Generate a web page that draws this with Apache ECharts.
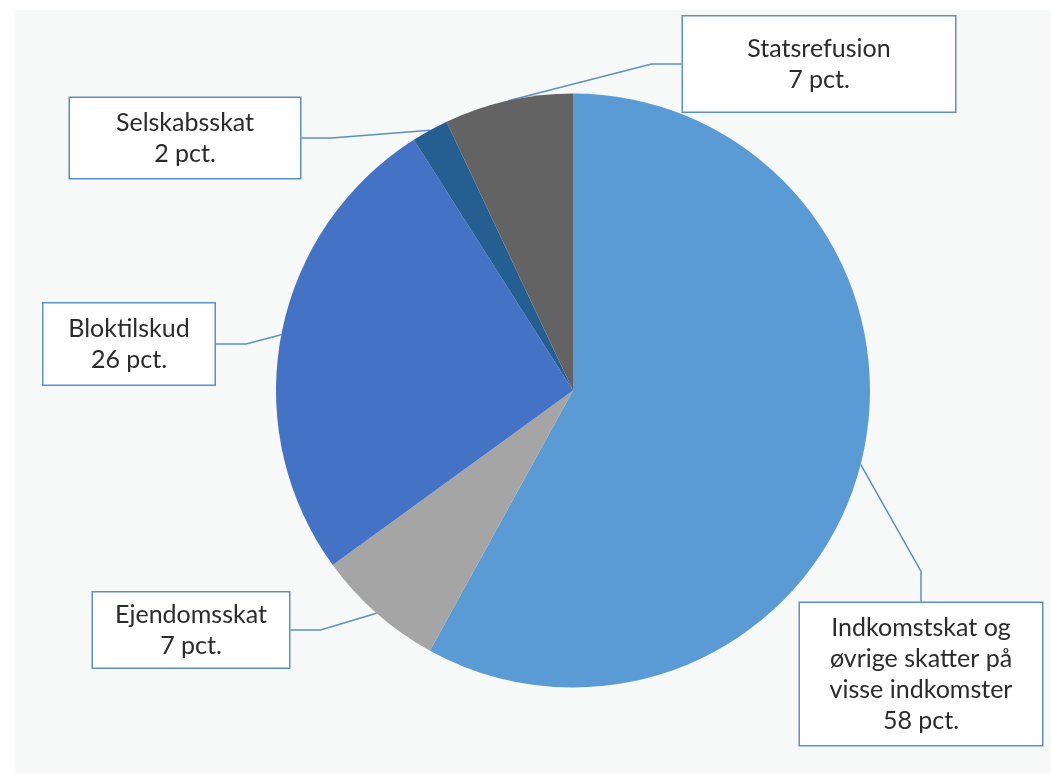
<!DOCTYPE html>
<html>
<head>
<meta charset="utf-8">
<script src="https://cdn.jsdelivr.net/npm/echarts@6/dist/echarts.min.js"></script>
<style>
  html, body { margin: 0; padding: 0; background: #fff; }
  #chart { position: absolute; left: 15px; top: 10px; width: 1036px; height: 763px; }
</style>
</head>
<body>
<div id="chart"></div>
<script>
// data
const categories = [
  'Indkomstskat og\nøvrige skatter på\nvisse indkomster',
  'Ejendomsskat',
  'Bloktilskud',
  'Selskabsskat',
  'Statsrefusion'
]
const shares = [58, 7, 26, 2, 7]

// styling / layout (not data)
const colors = ['#5b9bd5', '#a5a5a5', '#4472c4', '#255e91', '#636363']
const boxes = [
  // centre x, centre y, width, height of each callout box
  [906, 664, 242, 142],
  [176, 620, 196, 75],
  [114, 334, 171, 81],
  [170, 128, 230, 80],
  [804, 54, 272, 95]
]
const lineH = 31
const fontSize = 25

const chart = echarts.init(document.getElementById('chart'))

const seriesData = categories.map((name, i) => {
  const lines = name.split('\n').length + 1
  const [, , w, h] = boxes[i]
  const padV = Math.max(0, (h - lines * lineH) / 2)
  return {
    name,
    value: shares[i],
    itemStyle: { color: colors[i] },
    label: {
      width: w,
      padding: [padV, 0, padV, 0]
    }
  }
})

chart.setOption({
  backgroundColor: '#f7f8f8',
  animation: false,
  series: [
    {
      type: 'pie',
      center: [558, 380.5],
      radius: 297,
      startAngle: 90,
      clockwise: true,
      data: seriesData,
      itemStyle: { borderWidth: 0 },
      emphasis: { disabled: true },
      label: {
        show: true,
        formatter: p => `${p.name}\n${p.value} pct.`,
        fontFamily: 'Lato',
        fontSize: fontSize,
        lineHeight: lineH,
        color: '#2b2b2b',
        align: 'center',
        backgroundColor: '#ffffff',
        borderColor: '#5b8fc7',
        borderWidth: 1.5
      },
      labelLine: {
        show: true,
        lineStyle: { color: '#5b8fc7', width: 1.5 }
      },
      labelLayout: params => {
        const [x, y] = boxes[params.dataIndex]
        return { x, y, align: 'center', verticalAlign: 'middle' }
      }
    }
  ]
})
</script>
</body>
</html>
